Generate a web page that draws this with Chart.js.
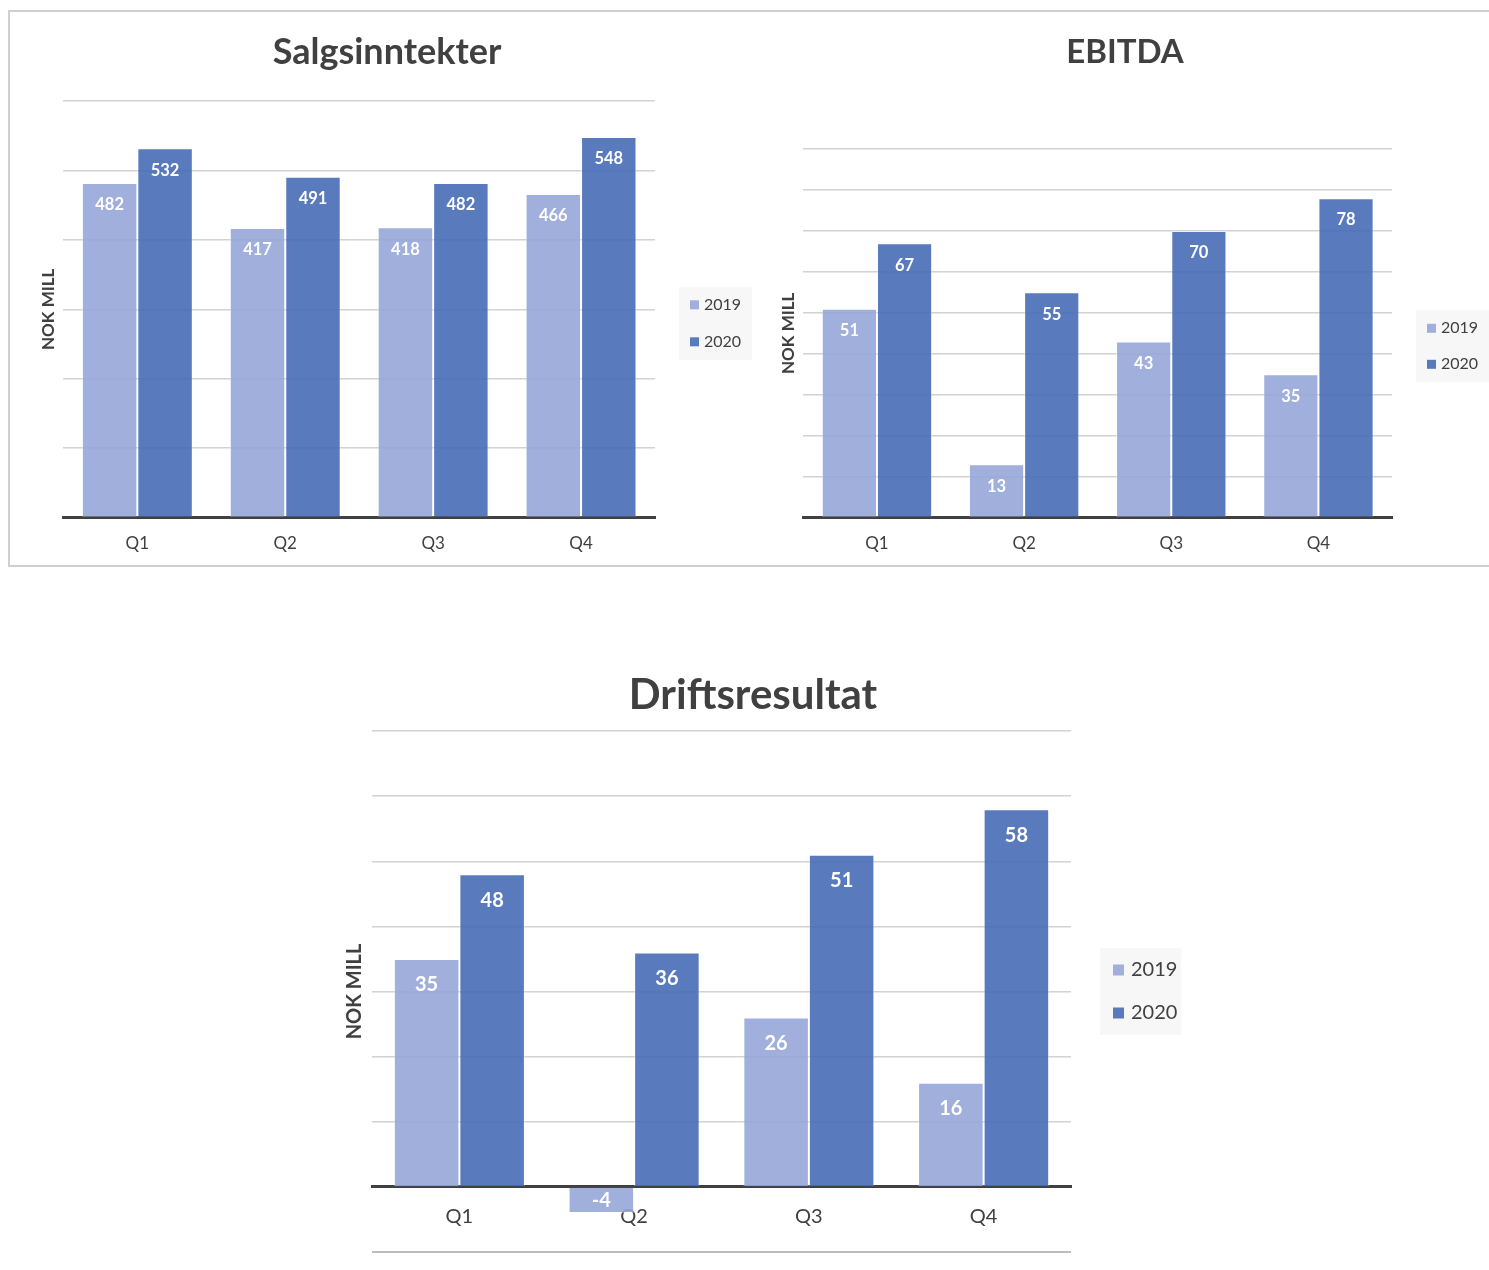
<!DOCTYPE html>
<html lang="no">
<head>
<meta charset="utf-8">
<title>Salgsinntekter, EBITDA og driftsresultat</title>
<script src="https://cdn.jsdelivr.net/npm/chart.js@4.4.1/dist/chart.umd.min.js"></script>
<style>
  html, body { margin: 0; padding: 0; background: #fff; }
  body { width: 1489px; height: 1270px; position: relative; overflow: hidden; }
  .ramme { position: absolute; left: 8px; top: 10px; width: 1500px; height: 553px; border: 2px solid #cfcfcf; }
  .boks { position: absolute; }
  #boksSalg { left: 10px; top: 12px; width: 750px; height: 560px; }
  #boksEbitda { left: 760px; top: 12px; width: 729px; height: 560px; }
  #boksDrift { left: 300px; top: 640px; width: 900px; height: 630px; }
</style>
</head>
<body>
<div class="ramme"></div>
<div class="boks" id="boksSalg"><canvas id="chartSalg"></canvas></div>
<div class="boks" id="boksEbitda"><canvas id="chartEbitda"></canvas></div>
<div class="boks" id="boksDrift"><canvas id="chartDrift"></canvas></div>
<script>
const FONT = "Lato, 'Open Sans', sans-serif";

// ── Data (NOK mill) ──
const kvartaler = ['Q1', 'Q2', 'Q3', 'Q4'];
const aar = ['2019', '2020'];
const salg2019 = [482, 417, 418, 466];
const salg2020 = [532, 491, 482, 548];
const ebitda2019 = [51, 13, 43, 35];
const ebitda2020 = [67, 55, 70, 78];
const drift2019 = [35, -4, 26, 16];
const drift2020 = [48, 36, 51, 58];
// aksegrenser: [min, max, steg]
const salgAkse = [0, 600, 100];
const ebitdaAkse = [0, 90, 10];
const driftAkse = [-10, 70, 10];

const LYS = 'rgba(150,166,215,0.9)';
const MORK = 'rgba(71,109,183,0.9)';
const TEKST = '#404040';

Chart.defaults.font.family = FONT;
Chart.defaults.color = TEKST;

// verdier i hvit tekst innerst i enden av hver søyle
const verdiEtiketter = {
    id: 'verdiEtiketter',
    afterDatasetsDraw(chart, args, opts) {
        const ctx = chart.ctx;
        ctx.save();
        ctx.font = `bold ${opts.size}px ${FONT}`;
        ctx.fillStyle = '#ffffff';
        ctx.textAlign = 'center';
        ctx.textBaseline = 'middle';
        chart.data.datasets.forEach((ds, i) => {
            chart.getDatasetMeta(i).data.forEach((bar, j) => {
                const v = ds.data[j];
                const len = Math.abs(bar.base - bar.y);
                const off = Math.min(opts.offset, len / 2);
                ctx.fillText(String(v), bar.x, v >= 0 ? bar.y + off : bar.y - off);
            });
        });
        ctx.restore();
    },
};

// forklaring til høyre med lys grå bakgrunn
const sideForklaring = {
    id: 'sideForklaring',
    afterDraw(chart, args, o) {
        const { ctx, chartArea } = chart;
        const items = chart.data.datasets;
        ctx.save();
        ctx.font = `${o.size}px ${FONT}`;
        const textW = Math.max(...items.map(d => ctx.measureText(d.label).width));
        const x0 = chartArea.right + o.offsetX;
        const cy = (chartArea.top + chartArea.bottom) / 2 + o.dy;
        const first = cy - o.spacing * (items.length - 1) / 2;
        const w = o.padL + o.box + o.gap + textW + o.padR;
        ctx.fillStyle = '#f7f7f7';
        ctx.fillRect(x0, first - o.padV, w, o.spacing * (items.length - 1) + 2 * o.padV);
        ctx.textBaseline = 'middle';
        items.forEach((d, i) => {
            const y = first + i * o.spacing;
            ctx.fillStyle = d.backgroundColor;
            ctx.fillRect(x0 + o.padL, y - o.box / 2, o.box, o.box);
            ctx.fillStyle = TEKST;
            ctx.fillText(d.label, x0 + o.padL + o.box + o.gap, y);
        });
        ctx.restore();
    },
};

function lagDiagram(id, s) {
    const negativ = s.akse[0] < 0;
    return new Chart(document.getElementById(id), {
        type: 'bar',
        data: {
            labels: kvartaler,
            datasets: [
                {
                    label: aar[0],
                    data: s.serier[0],
                    backgroundColor: LYS,
                    borderColor: 'rgba(255,255,255,0.35)',
                    borderWidth: 1,
                    categoryPercentage: 0.75,
                    barPercentage: 1,
                },
                {
                    label: aar[1],
                    data: s.serier[1],
                    backgroundColor: MORK,
                    borderColor: 'rgba(255,255,255,0.35)',
                    borderWidth: 1,
                    categoryPercentage: 0.75,
                    barPercentage: 1,
                },
            ],
        },
        options: {
            responsive: true,
            maintainAspectRatio: false,
            animation: false,
            layout: { padding: { left: s.padLeft, right: 0, top: 0, bottom: s.padBottom } },
            scales: {
                x: {
                    position: s.xPos,
                    z: 1,
                    grid: { display: false, drawTicks: false },
                    border: { display: true, color: TEKST, width: 3 },
                    ticks: { color: TEKST, font: { size: s.xFont }, padding: s.xPad },
                },
                y: {
                    min: s.akse[0],
                    max: s.akse[1],
                    ticks: { display: false, stepSize: s.akse[2] },
                    grid: {
                        drawTicks: false,
                        color: (c) => (negativ && c.tick && c.tick.value === s.akse[0]) ? '#bdbdbd' : '#d2d2d2',
                        lineWidth: (c) => (negativ && c.tick && c.tick.value === s.akse[0]) ? 2 : 1.5,
                    },
                    border: { display: false },
                    title: {
                        display: true,
                        text: 'NOK MILL',
                        color: TEKST,
                        font: { size: s.yFont, weight: 'bold' },
                        padding: { top: s.yTitleTop, bottom: 5 },
                    },
                },
                // tom akse som holder av plass til forklaringen
                plass: {
                    type: 'linear',
                    position: 'right',
                    grid: { display: false, drawTicks: false },
                    border: { display: false },
                    ticks: { display: false },
                    afterFit: (sc) => { sc.width = s.hoyre; },
                },
            },
            plugins: {
                legend: { display: false },
                tooltip: { enabled: false },
                title: {
                    display: true,
                    text: s.tittel,
                    color: TEKST,
                    font: { size: s.tittelFont, weight: 'bold' },
                    padding: s.tittelPad,
                },
                verdiEtiketter: { size: s.verdiFont, offset: s.verdiOffset },
                sideForklaring: s.forklaring,
            },
        },
        plugins: [verdiEtiketter, sideForklaring],
    });
}

// ── Salgsinntekter ──
lagDiagram('chartSalg', {
    tittel: 'Salgsinntekter', tittelFont: 36, tittelPad: { top: 18.4, bottom: 27.4 },
    serier: [salg2019, salg2020], akse: salgAkse,
    padLeft: 4, padBottom: 2.4, yTitleTop: 24, yFont: 17, hoyre: 105,
    xPos: 'bottom', xFont: 17, xPad: 15.8,
    verdiFont: 16.5, verdiOffset: 22,
    forklaring: { size: 16, box: 9, gap: 5, padL: 11, padR: 11, padV: 18, spacing: 37, offsetX: 24, dy: 14 },
});

// ── EBITDA ──
lagDiagram('chartEbitda', {
    tittel: 'EBITDA', tittelFont: 33, tittelPad: { top: 20.2, bottom: 77.2 },
    serier: [ebitda2019, ebitda2020], akse: ebitdaAkse,
    padLeft: 1, padBottom: 2.4, yTitleTop: 17, yFont: 17, hoyre: 97,
    xPos: 'bottom', xFont: 17, xPad: 15.8,
    verdiFont: 16.5, verdiOffset: 22,
    forklaring: { size: 16, box: 9, gap: 5, padL: 11, padR: 11, padV: 18, spacing: 36, offsetX: 24, dy: 13 },
});

// ── Driftsresultat ──
lagDiagram('chartDrift', {
    tittel: 'Driftsresultat', tittelFont: 42, tittelPad: { top: 29.8, bottom: 10.8 },
    serier: [drift2019, drift2020], akse: driftAkse,
    padLeft: 6, padBottom: 18, yTitleTop: 37, yFont: 20, hoyre: 129,
    xPos: { y: 0 }, xFont: 20, xPad: 18,
    verdiFont: 20, verdiOffset: 26,
    forklaring: { size: 20, box: 11, gap: 7, padL: 13, padR: 4, padV: 22, spacing: 43, offsetX: 29, dy: 0 },
});
</script>
</body>
</html>
